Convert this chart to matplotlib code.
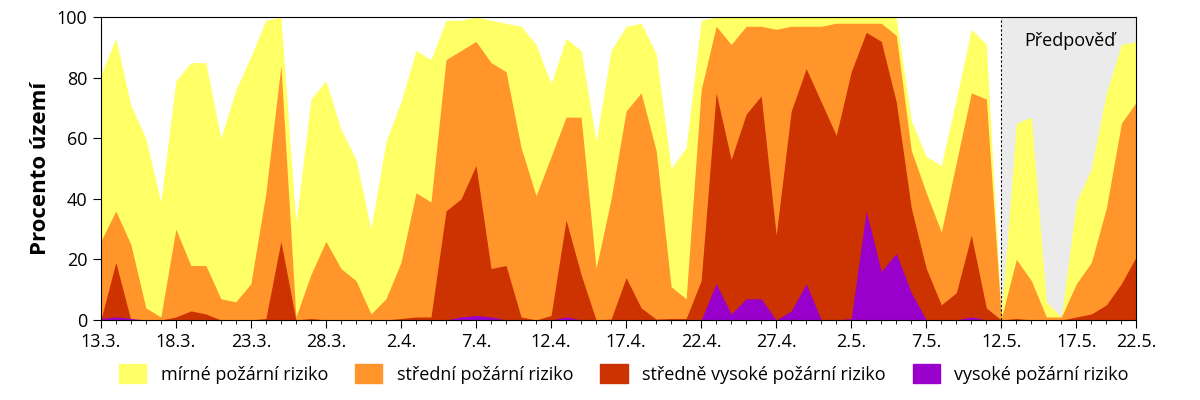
import matplotlib
matplotlib.use("Agg")
import matplotlib.pyplot as plt
import numpy as np
from matplotlib.patches import Patch

plt.rcParams['font.family'] = ['Open Sans', 'DejaVu Sans']

# cumulative share of territory (%) with at least the given risk level, daily from 13.3.
alespon_mirne = [81,93,71,60,39,79,85,85,60,76,87,99,100,32,73,79,63,53,30,59,72,89,86,99,99,100,99,98,97,91,
                 78,93,89,59,89,97,98,88,50,57,99,100,100,100,100,100,100,100,100,100,100,100,100,100,66,54,51,73,96,91,
                 1,65,67,6,1,39,50,75,91,92]
alespon_stredni = [26,36,25,4,1,30,18,18,7,6,12,42,84,1,15,26,17,13,2,7,19,42,39,86,89,92,85,82,57,41,
                   54,67,67,17,40,69,75,56,11,7,76,97,91,97,97,96,97,97,97,98,98,98,98,94,56,42,29,52,75,73,
                   0.5,20,13,1,1,12,19,37,65,72]
alespon_stredne_vysoke = [0,19,0,0,0,1,3,2,0,0,0,0.5,26,0,0.5,0,0,0,0,0,0.5,1,1,36,40,51,17,18,1,0,
                          1.5,33,15,0,0.3,14,4,0.3,0.5,0.5,13,75,53,68,74,28,69,83,72,61,82,95,92,72,37,17,5,9,28,4,
                          0,0.5,0,0,0,1,2,5,12,21]
vysoke = [0.5,1,0.5,0,0,0,0,0,0,0,0,0,0,0,0,0,0,0,0,0,0,0,0,0,1,1.5,1,0,0,0,
          0,1,0,0,0,0,0,0,0,0,0,12,2,7,7,0,3,12,0,0,0.5,36,16,22,9,0,0,0,1,0,
          0,0,0,0,0,0,0,0,0,0]
tick_labels = ["13.3.","18.3.","23.3.","28.3.","2.4.","7.4.","12.4.","17.4.","22.4.","27.4.","2.5.","7.5.","12.5.","17.5.","22.5."]
forecast_start = 60
series_names = ["mírné požární riziko","střední požární riziko","středně vysoké požární riziko","vysoké požární riziko"]
colors = ["#FFFF66","#FF952B","#CC3300","#9900CC"]

x = np.arange(len(alespon_mirne))
fig = plt.figure(figsize=(12,4), dpi=100)
ax = fig.add_axes([0.084, 0.2, 0.863, 0.757])
ax.axvspan(forecast_start, x[-1], color="#EBEBEB", zorder=0)
layers = [alespon_mirne, alespon_stredni, alespon_stredne_vysoke, vysoke]
for vals, c in zip(layers, colors):
    ax.fill_between(x, 0, vals, color=c, lw=0, zorder=1)
ax.axvline(forecast_start, color="black", ls=(0,(2,2)), lw=0.8, zorder=3)
ax.text(forecast_start+1.5, 92, "Předpověď", fontsize=13, va="center", zorder=4)
ax.set_xlim(0, x[-1]); ax.set_ylim(0, 100)
pos = list(range(0, 66, 5)) + [x[-1]]
ax.set_xticks(pos); ax.set_xticklabels(tick_labels, fontsize=13)
ax.set_xticks(x, minor=True)
ax.set_yticks(range(0, 101, 20)); ax.tick_params(axis='y', labelsize=13)
ax.tick_params(which='major', direction='out', length=6)
ax.tick_params(which='minor', direction='out', length=3)
ax.set_ylabel("Procento území", fontsize=16, fontweight="bold")
handles = [Patch(color=c) for c in colors]
fig.legend(handles, series_names, loc="lower center", ncol=4, frameon=False, fontsize=13,
           bbox_to_anchor=(0.52, 0.0), handlelength=1.5, handleheight=1.2, columnspacing=1.5)
fig.savefig("out.png")
